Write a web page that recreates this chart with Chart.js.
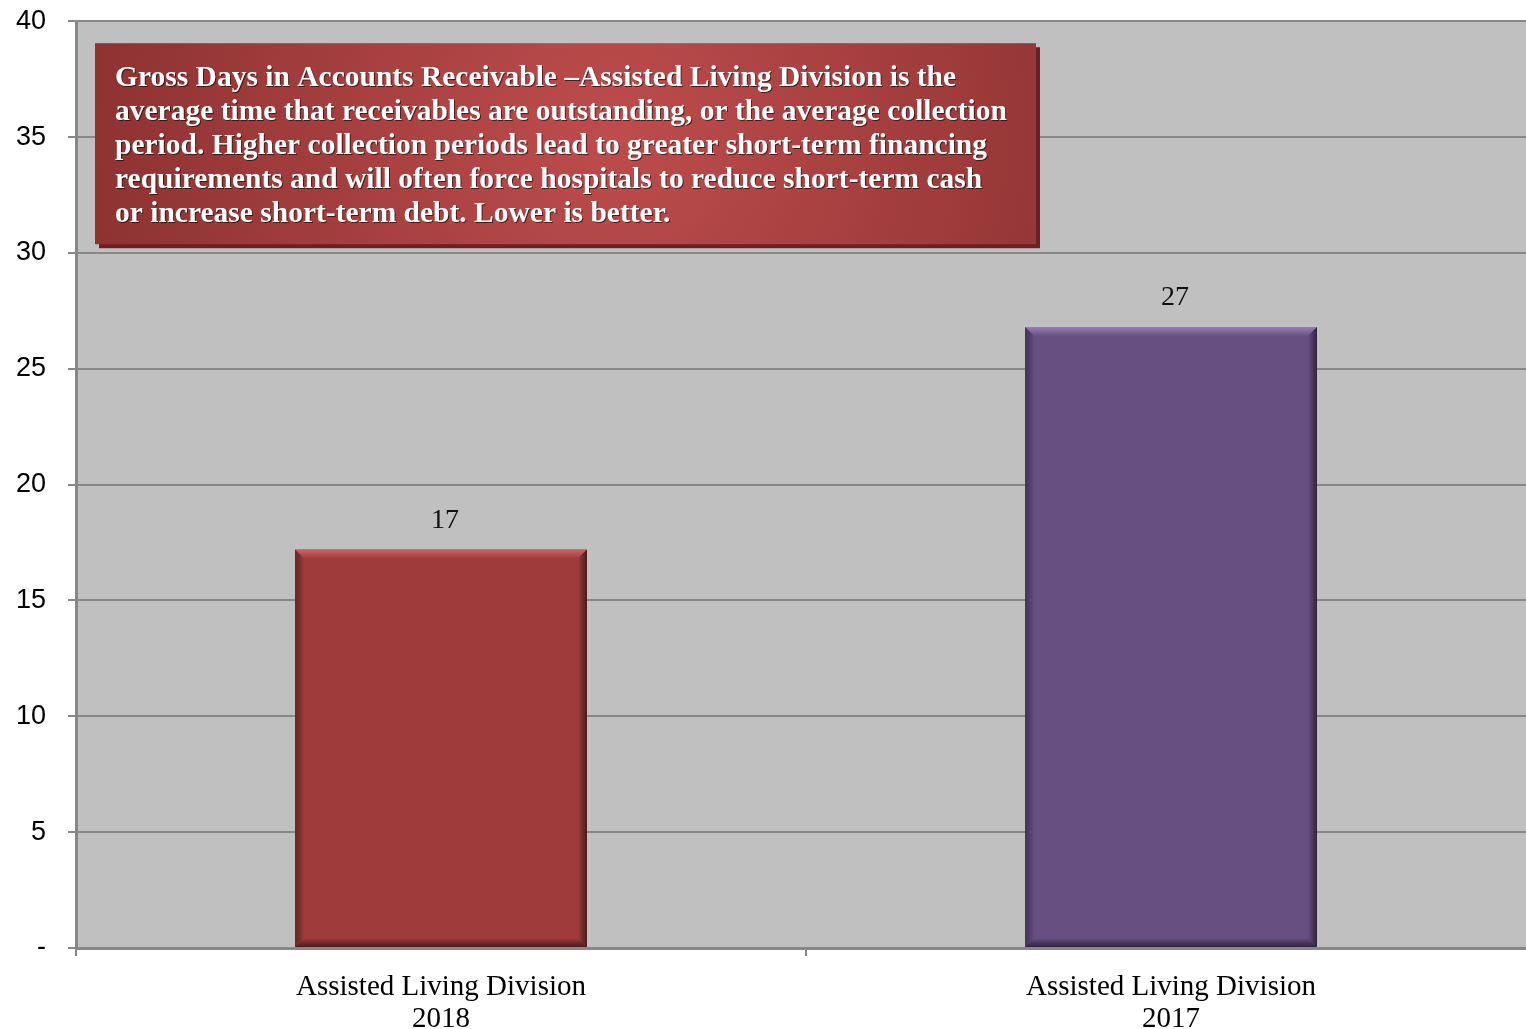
<!DOCTYPE html>
<html>
<head>
<meta charset="utf-8">
<script src="https://cdn.jsdelivr.net/npm/chart.js@4"></script>
<style>
  html, body { margin: 0; padding: 0; background: #fff; overflow: hidden; }
  #wrap { width: 1540px; height: 1046px; position: relative; top: -17px; }
</style>
</head>
<body>
<div id="wrap"><canvas id="chart"></canvas></div>
<script>
const categories = [['Assisted Living Division', '2018'], ['Assisted Living Division', '2017']];
const grossDays = [17.2, 26.8];
const barColors = ['#9e3c3c', '#684f82'];
const yTicks = [0, 5, 10, 15, 20, 25, 30, 35, 40];
const noteLines = [
  'Gross Days in Accounts Receivable \u2013Assisted Living Division is the',
  'average time that receivables are outstanding, or the average collection',
  'period. Higher collection periods lead to greater short-term financing',
  'requirements and will often force hospitals to reduce short-term cash',
  'or increase short-term debt. Lower is better.',
];

// shades for the bevel edges of each bar
const bevelLight = ['#d06464', '#9a7cb6'];
const bevelDark = ['#4a1a1a', '#2e2240'];

const plotBg = {
  id: 'plotBg',
  beforeDraw(chart) {
    const { ctx, chartArea: a } = chart;
    ctx.save();
    ctx.fillStyle = '#c0c0c0';
    ctx.fillRect(a.left, a.top, a.right - a.left, a.bottom - a.top);
    ctx.restore();
  },
};

const bevel = {
  id: 'bevel',
  afterDatasetsDraw(chart) {
    const { ctx } = chart;
    const meta = chart.getDatasetMeta(0);
    meta.data.forEach((bar, i) => {
      const { x, y, base, width } = bar.getProps(['x', 'y', 'base', 'width'], true);
      const l = x - width / 2;
      const r = x + width / 2;
      const t = y;
      const b = base;
      const s = 9;
      ctx.save();
      // top
      let g = ctx.createLinearGradient(0, t, 0, t + s);
      g.addColorStop(0, bevelLight[i]);
      g.addColorStop(1, barColors[i]);
      ctx.fillStyle = g;
      ctx.beginPath();
      ctx.moveTo(l, t); ctx.lineTo(r, t); ctx.lineTo(r - s, t + s); ctx.lineTo(l + s, t + s);
      ctx.closePath(); ctx.fill();
      // right
      g = ctx.createLinearGradient(r - s, 0, r, 0);
      g.addColorStop(0, barColors[i]);
      g.addColorStop(1, bevelDark[i]);
      ctx.fillStyle = g;
      ctx.beginPath();
      ctx.moveTo(r, t); ctx.lineTo(r, b); ctx.lineTo(r - s, b - s); ctx.lineTo(r - s, t + s);
      ctx.closePath(); ctx.fill();
      // bottom
      g = ctx.createLinearGradient(0, b - s, 0, b);
      g.addColorStop(0, barColors[i]);
      g.addColorStop(1, bevelDark[i]);
      ctx.fillStyle = g;
      ctx.beginPath();
      ctx.moveTo(l, b); ctx.lineTo(r, b); ctx.lineTo(r - s, b - s); ctx.lineTo(l + s, b - s);
      ctx.closePath(); ctx.fill();
      // left
      g = ctx.createLinearGradient(l, 0, l + s, 0);
      g.addColorStop(0, bevelDark[i] + '99');
      g.addColorStop(1, barColors[i]);
      ctx.fillStyle = g;
      ctx.beginPath();
      ctx.moveTo(l, t); ctx.lineTo(l, b); ctx.lineTo(l + s, b - s); ctx.lineTo(l + s, t + s);
      ctx.closePath(); ctx.fill();
      // value label
      ctx.fillStyle = '#111';
      ctx.font = '28px "Liberation Serif"';
      ctx.textAlign = 'center';
      ctx.textBaseline = 'bottom';
      ctx.fillText(Math.round(grossDays[i]), x + 4, t - 15);
      ctx.restore();
    });
  },
};

const noteBox = {
  id: 'noteBox',
  afterDraw(chart) {
    const { ctx, chartArea: a } = chart;
    const l = a.left + 19;
    const t = a.top + 22;
    const w = 941;
    const h = 201;
    ctx.save();
    ctx.fillStyle = '#6e2020';
    ctx.fillRect(l + 4, t + 4, w, h);
    const g = ctx.createRadialGradient(l + w * 0.55, t + h * 0.45, 10, l + w * 0.55, t + h * 0.45, w * 0.6);
    g.addColorStop(0, '#bd4c4c');
    g.addColorStop(1, '#8a3030');
    ctx.fillStyle = g;
    ctx.fillRect(l, t, w, h);
    ctx.font = 'bold 29.5px "Liberation Serif"';
    ctx.textBaseline = 'middle';
    ctx.fillStyle = '#fff';
    ctx.shadowColor = 'rgba(0,0,0,0.6)';
    ctx.shadowOffsetX = 1;
    ctx.shadowOffsetY = 1;
    noteLines.forEach((line, k) => {
      ctx.fillText(line, l + 20, t + 35 + k * 34);
    });
    ctx.restore();
  },
};

// eslint-disable-next-line no-new
new Chart(
  document.getElementById('chart'),
  {
    type: 'bar',
    data: {
      labels: categories,
      datasets: [{
        data: grossDays,
        backgroundColor: barColors,
        borderWidth: 0,
        categoryPercentage: 1,
        barPercentage: 0.4,
      }],
    },
    plugins: [plotBg, bevel, noteBox],
    options: {
      responsive: true,
      maintainAspectRatio: false,
      animation: false,
      layout: {
        padding: { top: 4, right: 4, left: 0, bottom: 0 },
      },
      plugins: {
        legend: { display: false },
        tooltip: { enabled: false },
      },
      scales: {
        x: {
          afterFit(scale) { scale.height = 81; },
          grid: {
            offset: true,
            drawOnChartArea: false,
            drawTicks: true,
            tickLength: 8,
            color: '#888',
            lineWidth: 2,
          },
          border: { color: '#888', width: 3 },
          ticks: {
            color: '#000',
            padding: 15,
            font: { family: 'Liberation Serif', size: 29, lineHeight: 1.12 },
          },
        },
        y: {
          min: 0,
          max: 40,
          afterFit(scale) { scale.width = 76; },
          afterBuildTicks(scale) { scale.ticks = yTicks.map((v) => ({ value: v })); },
          grid: {
            color: '#888',
            lineWidth: 2,
            tickLength: 8,
          },
          border: { color: '#888', width: 3 },
          ticks: {
            color: '#000',
            padding: 22,
            font: { family: 'Liberation Sans', size: 27 },
            callback(val) { return val === 0 ? '-' : String(val); },
          },
        },
      },
    },
  },
);
</script>
</body>
</html>
